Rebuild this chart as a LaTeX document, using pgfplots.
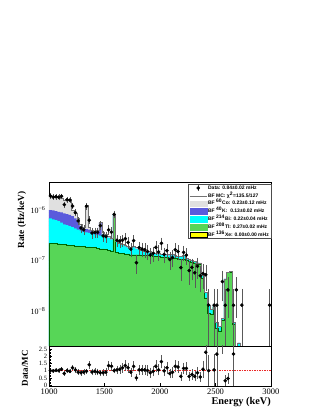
\documentclass[border=0pt]{standalone}
\usepackage{fontspec}
\setmainfont{Liberation Serif}
\newfontfamily\legfont{Liberation Sans}
\usepackage{pgfplots}
\pgfplotsset{compat=1.18}
\usepackage{pgfplotstable}

\definecolor{cogray}{RGB}{224,224,224}
\definecolor{kblue}{RGB}{90,90,220}
\definecolor{bicyan}{RGB}{0,255,255}
\definecolor{tlgreen}{RGB}{87,214,87}
\definecolor{xeyellow}{RGB}{255,255,0}
\definecolor{rootred}{RGB}{235,40,40}

% MC stack, cumulative levels: G = Tl, C = G+Bi, B = C+K, T = B+Co (left bin edges, 25 keV)
\pgfplotstableread{
x G C B T
1000 2.2e-7 6.8e-7 1.0e-6 1.9e-6
1025 2.2e-7 6.5e-7 9.8e-7 1.85e-6
1050 2.2e-7 6.3e-7 9.5e-7 1.8e-6
1075 2.15e-7 6.0e-7 9.2e-7 1.8e-6
1100 2.1e-7 5.6e-7 9.0e-7 1.7e-6
1125 2.1e-7 5.2e-7 8.6e-7 1.6e-6
1150 2.05e-7 5.0e-7 8.3e-7 1.6e-6
1175 2.0e-7 4.8e-7 8.0e-7 1.65e-6
1200 2.0e-7 4.6e-7 7.6e-7 1.0e-6
1225 1.95e-7 4.3e-7 6.8e-7 8.5e-7
1250 1.95e-7 4.1e-7 6.0e-7 6.8e-7
1275 1.9e-7 3.9e-7 4.8e-7 5.2e-7
1300 1.9e-7 3.7e-7 4.3e-7 4.5e-7
1325 1.85e-7 3.6e-7 4.2e-7 1.25e-6
1350 1.85e-7 3.5e-7 4.1e-7 4.5e-7
1375 1.8e-7 3.4e-7 3.75e-7 3.9e-7
1400 1.8e-7 3.3e-7 3.65e-7 3.8e-7
1425 1.75e-7 3.2e-7 3.8e-7 4.0e-7
1450 1.7e-7 3.1e-7 5.6e-7 5.8e-7
1475 1.7e-7 3.3e-7 3.3e-7 3.6e-7
1500 1.65e-7 3.1e-7 3.1e-7 3.3e-7
1525 1.6e-7 2.8e-7 2.8e-7 3.0e-7
1550 1.55e-7 2.6e-7 2.6e-7 2.8e-7
1575 7.6e-7 8.0e-7 8.0e-7 8.2e-7
1600 1.45e-7 2.3e-7 2.3e-7 2.4e-7
1625 1.4e-7 2.1e-7 2.1e-7 2.2e-7
1650 1.4e-7 2.0e-7 2.0e-7 2.1e-7
1675 1.35e-7 1.9e-7 1.9e-7 2.0e-7
1700 1.35e-7 1.8e-7 1.8e-7 1.9e-7
1725 1.3e-7 1.75e-7 1.75e-7 1.85e-7
1750 1.3e-7 1.82e-7 1.82e-7 1.9e-7
1775 1.3e-7 1.7e-7 1.7e-7 1.8e-7
1800 1.3e-7 1.62e-7 1.62e-7 1.7e-7
1825 1.28e-7 1.53e-7 1.53e-7 1.6e-7
1850 1.27e-7 1.48e-7 1.48e-7 1.55e-7
1875 1.25e-7 1.43e-7 1.43e-7 1.5e-7
1900 1.25e-7 1.43e-7 1.43e-7 1.5e-7
1925 1.23e-7 1.39e-7 1.39e-7 1.45e-7
1950 1.22e-7 1.35e-7 1.35e-7 1.4e-7
1975 1.2e-7 1.34e-7 1.34e-7 1.4e-7
2000 1.18e-7 1.3e-7 1.3e-7 1.35e-7
2025 1.17e-7 1.3e-7 1.3e-7 1.35e-7
2050 1.15e-7 1.25e-7 1.25e-7 1.3e-7
2075 1.13e-7 1.25e-7 1.25e-7 1.3e-7
2100 1.1e-7 1.26e-7 1.26e-7 1.3e-7
2125 1.1e-7 1.2e-7 1.2e-7 1.25e-7
2150 1.08e-7 1.16e-7 1.16e-7 1.2e-7
2175 1.07e-7 1.16e-7 1.16e-7 1.2e-7
2200 1.05e-7 1.21e-7 1.21e-7 1.25e-7
2225 1.0e-7 1.06e-7 1.06e-7 1.1e-7
2250 9.7e-8 1.02e-7 1.02e-7 1.05e-7
2275 9.3e-8 9.7e-8 9.7e-8 1.0e-7
2300 9.0e-8 9.3e-8 9.3e-8 9.5e-8
2325 8.6e-8 8.9e-8 8.9e-8 9.0e-8
2350 8.3e-8 8.8e-8 8.8e-8 9.0e-8
2375 4.5e-8 4.9e-8 4.9e-8 5.0e-8
2400 1.8e-8 2.25e-8 2.25e-8 2.3e-8
2425 9e-9 1.28e-8 1.28e-8 1.3e-8
2450 8.5e-9 1.08e-8 1.08e-8 1.1e-8
2475 1.2e-8 1.23e-8 1.23e-8 1.24e-8
2500 4.5e-9 5.9e-9 5.9e-9 6e-9
2525 4.0e-9 4.9e-9 4.9e-9 5e-9
2550 6.5e-9 6.9e-9 6.9e-9 7e-9
2575 4.2e-8 4.28e-8 4.28e-8 4.3e-8
2600 5.75e-8 5.78e-8 5.78e-8 5.8e-8
2625 5.95e-8 5.98e-8 5.98e-8 6e-8
2650 5.5e-9 5.9e-9 5.9e-9 6e-9
2675 1e-12 1e-12 1e-12 1e-12
2700 1e-12 2.3e-9 2.3e-9 2.3e-9
2725 1e-12 1e-12 1e-12 1e-12
2750 1e-12 1e-12 1e-12 1e-12
}\mc

% data (bin centres), rate and errors
\pgfplotstableread{
x y ep em
1012.5 1.9e-6 1.57e-7 1.57e-7
1037.5 1.81e-6 1.54e-7 1.54e-7
1062.5 1.84e-6 1.55e-7 1.55e-7
1087.5 1.8e-6 1.53e-7 1.53e-7
1112.5 1.87e-6 1.56e-7 1.56e-7
1137.5 1.28e-6 1.29e-7 1.29e-7
1162.5 1.6e-6 1.44e-7 1.44e-7
1187.5 1.57e-6 1.43e-7 1.43e-7
1212.5 1.2e-6 1.25e-7 1.25e-7
1237.5 8.9e-7 1.08e-7 1.08e-7
1262.5 6.1e-7 8.9e-8 8.9e-8
1287.5 4.4e-7 7.6e-8 7.6e-8
1312.5 4.05e-7 7.3e-8 7.3e-8
1337.5 1.19e-6 1.24e-7 1.24e-7
1362.5 6.3e-7 9.0e-8 9.0e-8
1387.5 3.5e-7 6.7e-8 6.7e-8
1412.5 3.6e-7 6.8e-8 6.8e-8
1437.5 3.6e-7 6.8e-8 6.8e-8
1462.5 4.9e-7 8.0e-8 8.0e-8
1487.5 3.06e-7 6.3e-8 6.3e-8
1512.5 2.97e-7 6.2e-8 6.2e-8
1537.5 4.05e-7 7.3e-8 7.3e-8
1562.5 3.64e-7 6.9e-8 6.9e-8
1587.5 8.2e-7 1.03e-7 1.03e-7
1612.5 2.52e-7 5.7e-8 5.7e-8
1637.5 2.42e-7 5.6e-8 5.6e-8
1662.5 2.52e-7 5.7e-8 5.7e-8
1687.5 2.7e-7 5.9e-8 5.9e-8
1712.5 2.28e-7 5.4e-8 5.4e-8
1737.5 1.67e-7 4.7e-8 4.7e-8
1762.5 2.47e-7 5.7e-8 5.7e-8
1787.5 9.0e-8 3.4e-8 3.4e-8
1812.5 1.79e-7 4.8e-8 4.8e-8
1837.5 1.68e-7 4.7e-8 4.7e-8
1862.5 1.63e-7 4.6e-8 4.6e-8
1887.5 1.5e-7 4.4e-8 4.4e-8
1912.5 1.28e-7 4.1e-8 4.1e-8
1937.5 1.38e-7 4.2e-8 4.2e-8
1962.5 1.82e-7 4.9e-8 4.9e-8
1987.5 1.47e-7 4.4e-8 4.4e-8
2012.5 2.19e-7 5.3e-8 5.3e-8
2037.5 1.32e-7 4.1e-8 4.1e-8
2062.5 1.56e-7 4.5e-8 4.5e-8
2087.5 1.04e-7 3.7e-8 3.7e-8
2112.5 1.14e-7 3.8e-8 3.8e-8
2137.5 1.63e-7 4.6e-8 4.6e-8
2162.5 1.5e-7 4.4e-8 4.4e-8
2187.5 7.2e-8 3.1e-8 3.1e-8
2212.5 1.44e-7 4.3e-8 4.3e-8
2237.5 1.27e-7 4.1e-8 4.1e-8
2262.5 6.3e-8 2.9e-8 2.9e-8
2287.5 7.3e-8 3.1e-8 3.1e-8
2312.5 5.7e-8 2.7e-8 2.7e-8
2337.5 7.65e-8 3.2e-8 3.2e-8
2362.5 4.95e-8 2.5e-8 2.5e-8
2387.5 5.5e-8 2.7e-8 2.7e-8
2412.5 5.2e-8 2.6e-8 2.6e-8
2437.5 1.3e-8 1.3e-8 1.29e-8
2487.5 1.3e-8 1.3e-8 1.29e-8
2512.5 1.29e-8 1.29e-8 1.28e-8
2562.5 3.8e-8 2.2e-8 2.2e-8
2587.5 1.29e-8 1.29e-8 1.28e-8
2612.5 2.6e-8 1.84e-8 1.84e-8
2662.5 1.29e-8 1.29e-8 1.28e-8
2687.5 2.6e-8 1.84e-8 1.84e-8
2737.5 1.3e-8 1.3e-8 1.29e-8
2987.5 1.3e-8 1.3e-8 1.29e-8
}\data

% Data/MC ratio
\pgfplotstableread{
x y ep em
1012.5 1.0 0.083 0.083
1037.5 0.98 0.083 0.083
1062.5 1.02 0.086 0.086
1087.5 1.0 0.085 0.085
1112.5 1.1 0.091 0.091
1137.5 0.8 0.081 0.081
1162.5 1.0 0.09 0.09
1187.5 0.95 0.086 0.086
1212.5 1.2 0.125 0.125
1237.5 1.05 0.127 0.127
1262.5 0.9 0.131 0.131
1287.5 0.85 0.146 0.146
1312.5 0.9 0.162 0.162
1337.5 0.95 0.1 0.1
1362.5 1.4 0.2 0.2
1387.5 0.9 0.174 0.174
1412.5 0.95 0.18 0.18
1437.5 0.9 0.171 0.171
1462.5 0.85 0.139 0.139
1487.5 0.85 0.175 0.175
1512.5 0.9 0.188 0.188
1537.5 1.35 0.243 0.243
1562.5 1.3 0.247 0.247
1587.5 1.0 0.126 0.126
1612.5 1.05 0.238 0.238
1637.5 1.1 0.255 0.255
1662.5 1.2 0.272 0.272
1687.5 1.35 0.296 0.296
1712.5 1.2 0.287 0.287
1737.5 0.9 0.251 0.251
1762.5 1.3 0.298 0.298
1787.5 0.5 0.19 0.19
1812.5 1.05 0.282 0.282
1837.5 1.05 0.292 0.292
1862.5 1.05 0.297 0.297
1887.5 1.0 0.295 0.295
1912.5 0.85 0.271 0.271
1937.5 0.95 0.292 0.292
1962.5 1.3 0.347 0.347
1987.5 1.05 0.312 0.312
2012.5 1.62 0.395 0.395
2037.5 0.98 0.307 0.307
2062.5 1.2 0.347 0.347
2087.5 0.8 0.283 0.283
2112.5 0.88 0.297 0.297
2137.5 1.3 0.368 0.368
2162.5 1.25 0.368 0.368
2187.5 0.6 0.256 0.256
2212.5 1.15 0.345 0.345
2237.5 1.15 0.368 0.368
2262.5 0.6 0.272 0.272
2287.5 0.73 0.307 0.307
2312.5 0.6 0.286 0.286
2337.5 0.85 0.349 0.349
2362.5 0.55 0.28 0.28
2387.5 1.1 0.536 0.536
2412.5 2.27 1.135 1.135
2437.5 1.0 1.0 0.99
2487.5 1.05 1.05 1.04
2512.5 2.15 2.15 2.13
2562.5 5.4 3.17 3.17
2587.5 0.3 0.3 0.297
2612.5 0.45 0.318 0.318
2662.5 2.15 2.15 2.13
}\ratio

\pgfplotsset{
  rootaxis/.style={
    scale only axis, width=222pt,
    xmin=1000, xmax=3000,
    tick pos=left, tick align=inside,
    axis line style={black, line width=0.5pt},
    every tick/.style={black, line width=0.4pt},
  },
  datapts/.style={only marks, mark=*, mark size=1.6pt, black,
    error bars/.cd, y dir=both, y explicit,
    error bar style={black!65, line width=0.35pt},
    error mark options={black!65, mark size=0.9pt, line width=0.35pt}},
}

\begin{document}
\begin{tikzpicture}
\useasboundingbox (0,0) rectangle (315pt,407pt);

% ---------------- main panel ----------------
\begin{axis}[rootaxis,
  at={(49pt,61pt)}, anchor=south west, height=164pt,
  ymode=log, ymin=2e-9, ymax=3.6e-6, log origin y=infty,
  xtick={1500,2000,2500}, xticklabels={},
  ytick={1e-8,1e-7,1e-6},
  yticklabels={10\textsuperscript{−8},10\textsuperscript{−7},10\textsuperscript{−6}},
  yticklabel style={font=\fontsize{8}{9}\selectfont},
  major tick length=5pt, minor tick length=2.5pt,
  ylabel={Rate (Hz/keV)},
  ylabel style={at={(axis description cs:-0.122,0.963)}, anchor=east,
    font=\fontsize{9.3}{11}\selectfont\bfseries},
  legend style={at={(axis description cs:1,0.988)}, anchor=north east,
    font=\fontsize{5}{6}\legfont\bfseries, draw=black!70,
    inner xsep=1pt, inner ysep=0.5pt, row sep=1.1pt,
    nodes={inner sep=1pt, text height=3.6pt, text depth=1.1pt}},
  legend cell align=left,
]
\addlegendimage{legend image code/.code={
   \draw[black!70, line width=0.35pt] (0.3cm,-3pt)--(0.3cm,3pt);
   \fill[black] (0.3cm,0pt) circle (1.6pt);}}
\addlegendentry{Data: 0.84±0.02 mHz}
\addlegendimage{black!55, line width=0.6pt}
\addlegendentry{BF MC: χ\textsuperscript{2}=135.5/127}
\addlegendimage{area legend, fill=cogray, draw=cogray}
\addlegendentry{BF \textsuperscript{60}Co: 0.23±0.12 mHz}
\addlegendimage{area legend, fill=kblue, draw=kblue}
\addlegendentry{BF \textsuperscript{40}K:\ \ 0.13±0.02 mHz}
\addlegendimage{area legend, fill=bicyan, draw=bicyan}
\addlegendentry{BF \textsuperscript{214}Bi: 0.22±0.04 mHz}
\addlegendimage{area legend, fill=tlgreen, draw=tlgreen}
\addlegendentry{BF \textsuperscript{208}Tl: 0.27±0.02 mHz}
\addlegendimage{area legend, fill=xeyellow, draw=black}
\addlegendentry{BF \textsuperscript{136}Xe: 0.00±0.00 mHz}

\addplot[const plot, fill=cogray, draw=none, forget plot] table[x=x,y=T]{\mc} \closedcycle;
\addplot[const plot, fill=kblue, draw=none, forget plot] table[x=x,y=B]{\mc} \closedcycle;
\addplot[const plot, fill=bicyan, draw=none, forget plot] table[x=x,y=C]{\mc} \closedcycle;
\addplot[const plot, fill=tlgreen, draw=green!40!black, line width=0.25pt, forget plot] table[x=x,y=G]{\mc} \closedcycle;
\addplot[const plot, draw=black!55, line width=0.4pt, forget plot] table[x=x,y=T]{\mc};
\addplot[forget plot, datapts] table[x=x, y=y, y error plus=ep, y error minus=em]{\data};
\end{axis}

% ---------------- ratio panel ----------------
\begin{axis}[rootaxis,
  at={(49pt,21pt)}, anchor=south west, height=40pt,
  ymin=-0.07, ymax=2.71,
  xtick={1000,1500,2000,2500,3000},
  xticklabels={1000,1500,2000,2500,3000},
  xticklabel style={font=\fontsize{8.5}{10}\selectfont, inner sep=0.5pt, yshift=-2.3pt,
    text height=5.9pt, text depth=0pt},
  ytick={0,0.5,1,1.5,2,2.5},
  yticklabels={0,0.5,1,1.5,2,2.5},
  yticklabel style={font=\fontsize{6.5}{7}\selectfont, inner sep=0.5pt, xshift=-1.2pt,
    text height=4.5pt, text depth=0pt},
  minor y tick num=4,
  major tick length=3pt, minor tick length=1.5pt,
  xlabel={Energy (keV)},
  xlabel style={at={(axis description cs:1,-0.52)}, anchor=south east, inner sep=0pt,
    font=\fontsize{10.3}{12}\selectfont\bfseries},
  ylabel={Data/MC},
  ylabel style={at={(axis description cs:-0.108,0.98)}, anchor=east,
    font=\fontsize{9}{11}\selectfont\bfseries},
]
\addplot[draw=rootred, line width=0.5pt, dash pattern=on 1.5pt off 1pt] coordinates {(1000,1) (3000,1)};
\addplot[datapts] table[x=x, y=y, y error plus=ep, y error minus=em]{\ratio};
\end{axis}
\end{tikzpicture}
\end{document}
